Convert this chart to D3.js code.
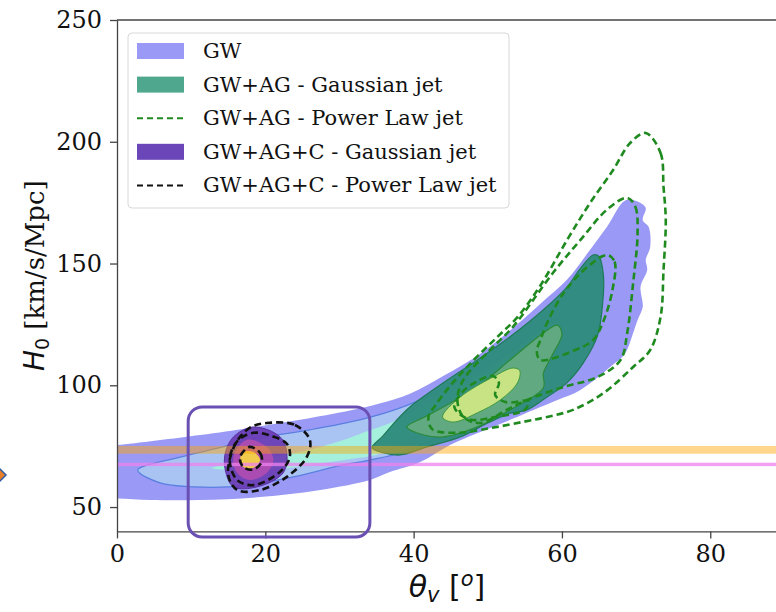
<!DOCTYPE html>
<html>
<head>
<meta charset="utf-8">
<script src="https://cdn.jsdelivr.net/npm/d3@7"></script>
<style>
  body { margin: 0; background: #fff; }
  svg { display: block; }
</style>
</head>
<body>
<div id="chart-area"></div>
<script>
const WIDTH = 776;
const HEIGHT = 612;

// axis ticks
const xTicks = [0, 20, 40, 60, 80];
const yTicks = [50, 100, 150, 200, 250];

// GW only (filled, 3 levels) -- [theta_v, H0]
const gwOuter = [[-3,75],[0,75.5],[11.2,79.6],[17.9,82.5],[24.7,85.8],[31.4,89.6],[35.4,92.5],[39.5,96.5],[44.1,104],[49,113],[53,122.5],[57.1,133.5],[60.7,143.4],[63.8,155.7],[66.1,165.2],[68.6,176],[70.6,174.9],[71.3,172.8],[70.9,167.8],[71.7,165],[71.9,156.8],[71.3,151.5],[71.5,147.4],[70.6,140.4],[70.9,132.2],[70.2,126.8],[69.6,121.5],[68.5,113],[66.9,108.5],[62.5,98.1],[59.4,94],[57.1,91.1],[53,85.8],[49,80.8],[44.9,75.5],[40.9,68.5],[36.8,64.4],[34.1,61.1],[27.4,57],[19.3,54.1],[11.2,52.9],[4.5,52.9],[0,53.5],[-3,53.5]];
const gwMid = [[2.8,65.2],[8.1,70.2],[12.6,73.5],[19.3,78.4],[26,81.7],[33,86],[38,90.5],[43,97],[48,105],[53,114],[57,123],[59.5,127],[60,121],[58,111],[54,100],[49,89],[44,80],[38.5,72.5],[34.1,69.3],[30.5,67.3],[23.8,62.4],[17,58.7],[10.3,58.3],[5.8,59.9]];
const gwInner = [[12.8,66],[17,68.5],[22,71],[26,73.5],[30,77],[34.1,81.5],[38,86],[42,92],[46,99],[50,106],[53,112],[54.5,113],[53,106],[50,99],[46,92],[42,85],[38.5,77],[35.5,72],[31,69.5],[26,67.3],[21,65.5],[16,65]];

// GW+AG Gaussian jet (filled, 3 levels)
const agOuter = [[34.4,74.3],[35.8,79],[37.5,85],[39.5,91.1],[44,101],[48.6,110.4],[53,119.9],[57.5,131],[60.7,140.4],[62.5,148],[64.2,153.5],[65,152.9],[65.6,145],[65.5,134],[64.8,120.4],[62.9,109.3],[60.7,101.1],[58,95.2],[55.3,89.9],[53,88.5],[50,84.5],[46.3,78.8],[41.8,74.7],[38.2,71.4],[36,72.2]];
const agMid = [[39.1,82.9],[41.5,87],[44,91.1],[48.6,99.3],[53,110.4],[57.5,121.5],[59.4,124.7],[60,121],[58.8,113],[57.5,105],[57.5,99],[53,89.9],[48.6,82.9],[44,78.8],[40.5,80.4]];
const agInner = [[43.9,87],[46.3,95.2],[50.7,103.4],[53.4,107.1],[54.3,106],[54,101],[51.7,94],[48.6,88.7],[45.3,84.9]];

// GW+AG Power Law jet (dashed)
const plA = [[71.3,203.6],[73.3,195.4],[73.7,181.4],[74,167.8],[73.7,147.4],[73.3,128.1],[71.9,114.5],[69.6,107.5],[65.6,96.8],[61.5,89.9],[58,87],[54.8,85],[50.5,82.5],[46,80.5],[42.5,82],[42,87],[43,92],[45,100],[48,110],[51.3,119.9],[54,128],[57.1,141],[60.7,159.7],[63.8,174.9],[66.9,188.4],[69.2,199.5]];
const plB = [[68.8,177],[69.9,173.3],[70.2,162.6],[69.6,142],[68.8,121.5],[67.9,110.4],[64.8,103.4],[60.2,99.3],[55.7,94.5],[52.6,90],[49,84.5],[46.7,87],[45.9,94],[46.7,102.2],[50.3,114.5],[53.4,124],[58.8,146.2],[62.5,159.7],[66.1,172.2]];
const plC = [[66.1,153.5],[67.1,150.8],[66.8,139],[65.5,125.6],[64.2,118.6],[61.8,114.5],[57.1,110.4],[56.6,114],[57.1,118.6],[58,125.6],[60.2,137.8],[63.4,148.5]];
const plD = [[45.5,91],[46.5,97],[48.5,101.5],[50.7,103.8],[51.5,101],[51,96],[52.5,93],[55.5,93.5],[55,90],[51,87],[47.5,86]];

// GW+AG+C Gaussian jet (filled, 3 levels)
const cOuter = [[18.4,82.9],[22,78.8],[22.9,72.2],[22.4,64],[18.9,58.3],[15.7,58.3],[14.6,65.2],[14.6,72.2],[15.7,78.8]];
const cMid = [[17.5,77.6],[20.2,74.7],[21.1,69.3],[20.2,64],[17.9,61.1],[16.2,64],[15.7,70.6]];
const cInner = [[17,72.6],[18.4,72.6],[19.3,69.3],[18.4,66.1],[17,66.5],[16.6,69.3]];

// GW+AG+C Power Law jet (dashed)
const plcOuter = [[20.2,84.5],[24,83.7],[26,77.6],[25.6,70.6],[22.9,62.4],[19.3,57],[16.2,57],[15,63.2],[15.9,75.5],[17.9,82.5]];
const plcMid = [[18.4,80.5],[21,79],[22.9,76],[23.3,70.6],[22,64.5],[18.4,59],[16.2,61.1],[15.2,69.3],[16.2,77]];
const plcInner = [[17.9,74.7],[19.3,72.2],[19.5,68.5],[18.4,65.4],[17,66.5],[16.6,70.6]];

// horizontal H0 bands [low, high]
const shoesBand = [71.9, 75.1];
const planckBand = [66.8, 68.2];

// highlighted box [x0, x1, yLow, yHigh]
const zoomBox = [9.6, 34.1, 37.7, 91.1];

const legendLabels = ["GW", "GW+AG - Gaussian jet", "GW+AG - Power Law jet", "GW+AG+C - Gaussian jet", "GW+AG+C - Power Law jet"];

const x = d3.scaleLinear().domain([0, 89]).range([117, 777]);
const y = d3.scaleLinear().domain([40, 250]).range([531.4, 20]);

const svg = d3.select('#chart-area').append('svg')
    .attr("width", WIDTH)
    .attr("height", HEIGHT);

svg.append("clipPath").attr("id", "plot-clip")
    .append("rect")
    .attr("x", x(0)).attr("y", y(250))
    .attr("width", x(89) - x(0)).attr("height", y(40) - y(250));

const closed = d3.line()
    .x(d => x(d[0]))
    .y(d => y(d[1]))
    .curve(d3.curveCatmullRomClosed.alpha(0.5));

const plot = svg.append("g").attr("clip-path", "url(#plot-clip)");

function fillShape(data, fill, opacity, stroke, sw) {
    plot.append("path")
        .attr("d", closed(data))
        .attr("fill", fill)
        .attr("fill-opacity", opacity)
        .attr("stroke", stroke || "none")
        .attr("stroke-width", sw || 1);
}
function dashShape(data, color) {
    plot.append("path")
        .attr("d", closed(data))
        .attr("fill", "none")
        .attr("stroke", color)
        .attr("stroke-width", 2.6)
        .attr("stroke-dasharray", "7,4");
}

// GW
fillShape(gwOuter, "#9a9af6", 1);
fillShape(gwMid, "#a9c3f3", 1, "#5a7fe0", 1.2);
fillShape(gwInner, "#a4f0dc", 1);

// GW+AG gaussian
fillShape(agOuter, "#2e8b7c", 0.96, "#1f7a5a", 1.2);
fillShape(agMid, "#64ab7f", 0.95, "#2b8a3a", 1.2);
fillShape(agInner, "#c8e383", 1, "#3f9a3f", 1);

// GW+AG+C gaussian
fillShape(cOuter, "#6a3cb4", 0.92, "#5a2fa0", 1);
fillShape(cMid, "#b04cb0", 0.9);
fillShape(cInner, "#f0cb4c", 1);

// H0 bands
plot.append("rect")
    .attr("x", x(0)).attr("width", x(89) - x(0))
    .attr("y", y(shoesBand[1])).attr("height", y(shoesBand[0]) - y(shoesBand[1]))
    .attr("fill", "orange").attr("fill-opacity", 0.45);
plot.append("rect")
    .attr("x", x(0)).attr("width", x(89) - x(0))
    .attr("y", y(planckBand[1])).attr("height", y(planckBand[0]) - y(planckBand[1]))
    .attr("fill", "violet").attr("fill-opacity", 0.75);

// power law dashed
[plA, plB, plC, plD].forEach(d => dashShape(d, "#1f8a1f"));
[plcOuter, plcMid, plcInner].forEach(d => dashShape(d, "#111"));

// axes
const axisFont = "'DejaVu Serif', serif";
const xAxis = svg.append("g")
    .attr("transform", `translate(0,${y(40)})`)
    .call(d3.axisBottom(x).tickValues(xTicks).tickSize(7).tickPadding(7).tickSizeOuter(0));
const yAxis = svg.append("g")
    .attr("transform", `translate(${x(0)},0)`)
    .call(d3.axisLeft(y).tickValues(yTicks).tickSize(7).tickPadding(8).tickSizeOuter(0));
[xAxis, yAxis].forEach(g => {
    g.selectAll("path, line").attr("stroke", "#444").attr("stroke-width", 1.3);
    g.selectAll("text").attr("font-family", axisFont).attr("font-size", 24).attr("fill", "#111");
});
svg.append("line")
    .attr("x1", x(0)).attr("x2", x(89)).attr("y1", y(250)).attr("y2", y(250))
    .attr("stroke", "#444").attr("stroke-width", 1.3);

// axis labels
const yl = svg.append("text")
    .attr("transform", `translate(44,${(y(40) + y(250)) / 2}) rotate(-90)`)
    .attr("text-anchor", "middle")
    .attr("fill", "#111");
yl.append("tspan").attr("font-family", "'DejaVu Sans'").attr("font-style", "italic").attr("font-size", 28).text("H");
yl.append("tspan").attr("font-family", "'DejaVu Sans'").attr("font-size", 19).attr("dy", 5).text("0");
yl.append("tspan").attr("font-family", axisFont).attr("font-size", 26).attr("dy", -5).text(" [km/s/Mpc]");

const xl = svg.append("text")
    .attr("x", (x(0) + 777) / 2).attr("y", 597)
    .attr("text-anchor", "middle")
    .attr("font-family", "'DejaVu Sans'")
    .attr("fill", "#111");
xl.append("tspan").attr("font-style", "italic").attr("font-size", 30).text("θ");
xl.append("tspan").attr("font-style", "italic").attr("font-size", 21).attr("dy", 5).text("v");
xl.append("tspan").attr("font-size", 30).attr("dy", -5).text(" [");
xl.append("tspan").attr("font-style", "italic").attr("font-size", 21).attr("dy", -11).text("o");
xl.append("tspan").attr("font-size", 30).attr("dy", 11).text("]");

// highlight box
svg.append("rect")
    .attr("x", x(zoomBox[0])).attr("y", y(zoomBox[3]))
    .attr("width", x(zoomBox[1]) - x(zoomBox[0]))
    .attr("height", y(zoomBox[2]) - y(zoomBox[3]))
    .attr("rx", 14)
    .attr("fill", "none")
    .attr("stroke", "#6b50b3")
    .attr("stroke-width", 3);

// little arrow at left edge
svg.append("path")
    .attr("d", "M-2,467 L6,475 L-2,483 Z")
    .attr("fill", "#e8802a").attr("stroke", "#2d5ba8").attr("stroke-width", 1.5);

// legend
const legend = svg.append("g");
legend.append("rect")
    .attr("x", 128).attr("y", 33).attr("width", 381).attr("height", 175)
    .attr("rx", 4)
    .attr("fill", "#fff").attr("fill-opacity", 0.85)
    .attr("stroke", "#d8d8d8");
const legendKinds = [
    {type: "patch", color: "#9a9af6"},
    {type: "patch", color: "#4fa88e"},
    {type: "dash", color: "#1f8a1f"},
    {type: "patch", color: "#6a46b8"},
    {type: "dash", color: "#111"}
];
const rows = legend.selectAll("g.row")
    .data(legendLabels)
    .join("g")
    .attr("transform", (d, i) => `translate(0,${51 + i * 33.6})`);
rows.each(function (d, i) {
    const g = d3.select(this);
    const k = legendKinds[i];
    if (k.type === "patch") {
        g.append("rect").attr("x", 137).attr("y", -8).attr("width", 47).attr("height", 16).attr("fill", k.color);
    } else {
        g.append("line").attr("x1", 137).attr("x2", 184).attr("y1", 0).attr("y2", 0)
            .attr("stroke", k.color).attr("stroke-width", 2).attr("stroke-dasharray", "6,4");
    }
    g.append("text")
        .attr("x", 203).attr("y", 7)
        .attr("font-family", axisFont)
        .attr("font-size", 21)
        .attr("fill", "#111")
        .text(d);
});
</script>
</body>
</html>
